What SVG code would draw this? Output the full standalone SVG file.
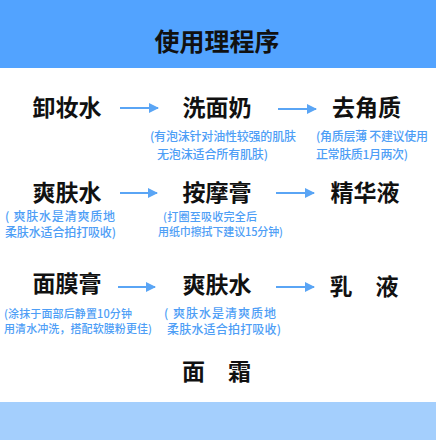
<svg xmlns="http://www.w3.org/2000/svg" width="436" height="440" viewBox="0 0 436 440">
<style>
.t{font-family:"Noto Sans CJK SC","Noto Sans",sans-serif;font-weight:700;fill:#111;font-size:23px;text-anchor:middle}
.s{font-family:"Noto Sans CJK SC","Noto Sans",sans-serif;font-weight:500;fill:#4E9EF6;font-size:12px}
.ar{stroke:#5AA5F5;stroke-width:2;fill:none}
</style>
<defs>
<marker id="ah" viewBox="0 0 10 10" refX="9" refY="5" markerWidth="5" markerHeight="5" orient="auto" markerUnits="strokeWidth">
<path d="M0,0 L10,5 L0,10 Z" fill="#5AA5F5"/>
</marker>
</defs>
<rect width="436" height="440" fill="#fff"/>
<rect x="0" y="0" width="436" height="68" fill="#52A3FF"/>
<rect x="0" y="402" width="436" height="38" fill="#A4CFFD"/>
<text id="title" x="217" y="51" class="t" style="font-size:25px">使用理程序</text>

<g id="connectors">
<line class="ar" x1="120" y1="108" x2="158" y2="108" marker-end="url(#ah)"/>
<line class="ar" x1="278" y1="109" x2="316" y2="109" marker-end="url(#ah)"/>
<line class="ar" x1="120" y1="193" x2="157" y2="193" marker-end="url(#ah)"/>
<line class="ar" x1="276" y1="193" x2="314" y2="193" marker-end="url(#ah)"/>
<line class="ar" x1="118" y1="287" x2="155" y2="287" marker-end="url(#ah)"/>
<line class="ar" x1="276" y1="287" x2="314" y2="287" marker-end="url(#ah)"/>
</g>

<g id="n1"><text class="t" x="67" y="115.5">卸妆水</text></g>
<g id="n2"><text class="t" x="217" y="115.5">洗面奶</text>
<text class="s" x="150" y="141" textLength="146">(有泡沫针对油性较强的肌肤</text>
<text class="s" x="157" y="159" textLength="111">无泡沫适合所有肌肤)</text></g>
<g id="n3"><text class="t" x="366.5" y="116">去角质</text>
<text class="s" x="316" y="141" textLength="112">(角质层薄 不建议使用</text>
<text class="s" x="316" y="159" textLength="92">正常肤质1月两次)</text></g>

<g id="n4"><text class="t" x="67" y="200.5">爽肤水</text>
<text class="s" x="5" y="221" textLength="110">( 爽肤水是清爽质地</text>
<text class="s" x="5" y="237" textLength="111">柔肤水适合拍打吸收)</text></g>
<g id="n5"><text class="t" x="217" y="200.5">按摩膏</text>
<text class="s" x="163" y="221" textLength="94" style="font-size:11px">(打圈至吸收完全后</text>
<text class="s" x="158" y="236" textLength="125" style="font-size:11px">用纸巾擦拭下建议15分钟)</text></g>
<g id="n6"><text class="t" x="365" y="200.5">精华液</text></g>

<g id="n7"><text class="t" x="67" y="292">面膜膏</text>
<text class="s" x="4" y="318" textLength="128" style="font-size:11px">(涂抹于面部后静置10分钟</text>
<text class="s" x="4" y="333" textLength="148" style="font-size:11px">用清水冲洗，搭配软膜粉更佳)</text></g>
<g id="n8"><text class="t" x="217" y="293">爽肤水</text>
<text class="s" x="164" y="318" textLength="112">( 爽肤水是清爽质地</text>
<text class="s" x="167" y="334" textLength="114">柔肤水适合拍打吸收)</text></g>
<g id="n9"><text class="t" x="364" y="295">乳　液</text></g>

<g id="n10"><text class="t" x="216.5" y="379.5">面　霜</text></g>
</svg>
